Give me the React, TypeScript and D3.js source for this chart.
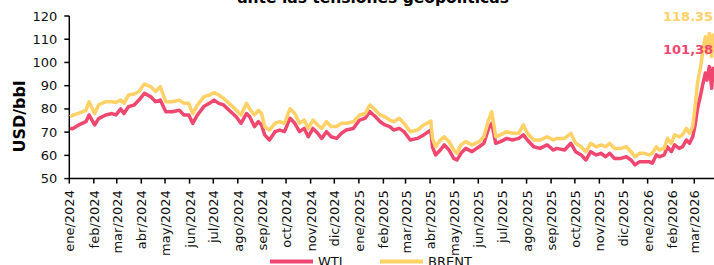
import * as d3 from "d3";

const dates = [
  "2024-01-02", "2024-01-05", "2024-01-13", "2024-01-22", "2024-01-26", "2024-02-02", "2024-02-07", "2024-02-16",
  "2024-02-24", "2024-02-29", "2024-03-06", "2024-03-10", "2024-03-16", "2024-03-23", "2024-03-29", "2024-04-05",
  "2024-04-13", "2024-04-19", "2024-04-25", "2024-05-02", "2024-05-10", "2024-05-19", "2024-05-25", "2024-05-31",
  "2024-06-05", "2024-06-11", "2024-06-19", "2024-06-26", "2024-07-02", "2024-07-08", "2024-07-14", "2024-07-21",
  "2024-07-30", "2024-08-05", "2024-08-12", "2024-08-16", "2024-08-22", "2024-08-27", "2024-08-31", "2024-09-04",
  "2024-09-10", "2024-09-17", "2024-09-23", "2024-09-29", "2024-10-06", "2024-10-12", "2024-10-18", "2024-10-24",
  "2024-10-29", "2024-11-04", "2024-11-10", "2024-11-15", "2024-11-21", "2024-11-27", "2024-12-04", "2024-12-10",
  "2024-12-16", "2024-12-25", "2025-01-02", "2025-01-09", "2025-01-15", "2025-01-22", "2025-01-28", "2025-02-03",
  "2025-02-09", "2025-02-14", "2025-02-21", "2025-02-27", "2025-03-07", "2025-03-16", "2025-03-24", "2025-04-02",
  "2025-04-04", "2025-04-08", "2025-04-14", "2025-04-19", "2025-04-25", "2025-05-01", "2025-05-05", "2025-05-10",
  "2025-05-16", "2025-05-24", "2025-06-02", "2025-06-08", "2025-06-14", "2025-06-18", "2025-06-23", "2025-06-29",
  "2025-07-07", "2025-07-14", "2025-07-22", "2025-07-28", "2025-08-02", "2025-08-10", "2025-08-18", "2025-08-27",
  "2025-09-04", "2025-09-08", "2025-09-18", "2025-09-26", "2025-10-02", "2025-10-09", "2025-10-15", "2025-10-21",
  "2025-10-28", "2025-11-03", "2025-11-09", "2025-11-14", "2025-11-20", "2025-11-28", "2025-12-05", "2025-12-11",
  "2025-12-16", "2025-12-22", "2025-12-28", "2026-01-03", "2026-01-07", "2026-01-12", "2026-01-16", "2026-01-22",
  "2026-01-26", "2026-01-31", "2026-02-04", "2026-02-10", "2026-02-14", "2026-02-19", "2026-02-23", "2026-02-27",
  "2026-03-02", "2026-03-05", "2026-03-09", "2026-03-12", "2026-03-15", "2026-03-17", "2026-03-20", "2026-03-23",
  "2026-03-25",
];

const wti = [
  71.7, 71.5, 73.1, 74.5, 77.4, 73.1, 75.8, 77.4, 78.0, 77.4, 80.0, 78.0, 81.0, 81.7, 83.8, 86.7,
  85.2, 83.1, 83.8, 78.8, 78.8, 79.4, 77.4, 77.4, 73.8, 77.4, 81.0, 82.4, 83.8, 82.4, 81.7, 79.4,
  76.6, 73.8, 78.0, 76.6, 72.4, 74.5, 73.1, 68.8, 66.6, 70.2, 70.9, 70.2, 76.0, 73.8, 70.2, 71.6,
  68.0, 71.6, 69.5, 67.3, 70.2, 68.0, 67.3, 69.5, 70.9, 71.6, 75.2, 76.0, 78.8, 76.6, 74.5, 73.1,
  72.4, 70.9, 71.6, 70.2, 66.6, 67.3, 68.8, 70.9, 63.7, 60.2, 62.3, 64.5, 62.3, 58.7, 58.0, 60.9,
  63.0, 61.6, 63.7, 65.2, 71.6, 73.8, 65.2, 65.9, 67.3, 66.6, 67.3, 68.8, 66.6, 63.7, 63.0, 64.5,
  62.3, 63.0, 62.3, 65.2, 61.6, 60.2, 58.0, 61.6, 60.2, 60.9, 59.4, 60.9, 58.7, 58.7, 59.4, 58.0,
  55.9, 57.3, 57.3, 57.3, 56.6, 60.2, 59.4, 60.2, 63.7, 61.6, 64.5, 63.0, 63.7, 66.6, 65.2, 68.0,
  73.0, 80.0, 86.0, 91.0, 95.5, 92.4, 98.2, 88.9, 98.2,
];

const brent = [
  76.6, 77.2, 78.2, 79.4, 83.1, 78.0, 81.7, 83.1, 83.1, 82.8, 83.8, 82.4, 86.0, 86.4, 87.5, 90.7,
  89.6, 87.5, 89.6, 83.1, 83.1, 83.8, 82.4, 82.4, 78.0, 81.7, 85.2, 86.0, 87.0, 86.0, 84.5, 82.4,
  79.4, 77.4, 82.4, 80.1, 77.4, 79.4, 78.0, 72.4, 70.9, 73.8, 74.5, 73.8, 80.1, 78.0, 73.8, 75.2,
  71.6, 75.2, 73.1, 71.6, 74.5, 72.4, 72.4, 73.8, 73.8, 74.5, 77.4, 78.0, 81.7, 79.4, 77.4, 76.6,
  75.2, 74.5, 76.0, 73.8, 70.2, 70.9, 73.1, 74.8, 67.3, 63.7, 66.6, 68.0, 65.9, 62.3, 60.9, 64.5,
  65.9, 64.5, 65.9, 68.0, 75.2, 78.8, 68.0, 68.8, 70.2, 69.5, 69.5, 73.1, 69.5, 66.6, 66.6, 68.0,
  66.6, 67.3, 67.3, 69.5, 65.2, 63.7, 61.6, 65.2, 63.7, 64.5, 63.7, 65.2, 63.0, 63.0, 63.7, 61.6,
  59.4, 60.9, 60.9, 60.2, 60.9, 63.7, 62.3, 63.0, 67.3, 65.2, 68.8, 68.0, 68.8, 71.6, 69.5, 72.4,
  81.0, 91.0, 98.2, 105.4, 111.1, 104.0, 112.5, 102.5, 112.5,
];

const yTicks = [50, 60, 70, 80, 90, 100, 110, 120];
const monthNames = ["ene", "feb", "mar", "abr", "may", "jun", "jul", "ago", "sep", "oct", "nov", "dic"];

const WTI_COLOR = "#EF476F";
const BRENT_COLOR = "#FFD166";
const FONT = "'DejaVu Sans', Verdana, sans-serif";

export default function App() {
  const width = 714;
  const height = 265;
  const parse = d3.timeParse("%Y-%m-%d");
  const parsed = dates.map((d) => parse(d) as Date);

  const x = d3
    .scaleTime()
    .domain([new Date(2024, 0, 1), new Date(2026, 2, 1)])
    .range([69.3, 694.3]);
  const y = d3.scaleLinear().domain([50, 120]).range([178.6, 16]);

  const months = d3.timeMonth.range(new Date(2024, 0, 1), new Date(2026, 2, 2));

  const line = d3
    .line<number>()
    .x((_, i) => x(parsed[i]))
    .y((v) => y(v));

  const x0 = x.range()[0];
  const yBase = y(50);

  return (
    <svg
      width={width}
      height={height}
      style={{ position: "absolute", left: 0, top: 0, background: "#fff", overflow: "hidden" }}
      fontFamily={FONT}
    >
      {/* title (first line falls outside the crop) */}
      <text x={373} y={2.5} textAnchor="middle" fontSize={15.5} fontWeight="bold" fill="#000">
        ante las tensiones geopolíticas
      </text>

      {/* y axis */}
      <line x1={x0} x2={x0} y1={y(120)} y2={yBase} stroke="#000" strokeWidth={1.5} />
      {yTicks.map((t) => (
        <g key={t}>
          <line x1={x0 - 5} x2={x0} y1={y(t)} y2={y(t)} stroke="#000" strokeWidth={1.5} />
          <text x={x0 - 12} y={y(t)} dy="0.35em" textAnchor="end" fontSize={13} fill="#111">
            {t}
          </text>
        </g>
      ))}
      <text
        transform={`translate(25,116.5) rotate(-90)`}
        textAnchor="middle"
        fontSize={16}
        fontWeight="bold"
        fill="#000"
      >
        USD/bbl
      </text>

      {/* x axis */}
      <line x1={x0} x2={width} y1={yBase} y2={yBase} stroke="#000" strokeWidth={1.5} />
      {months.map((m) => {
        const mx = x(m);
        return (
          <g key={m.toISOString()}>
            <line x1={mx} x2={mx} y1={yBase} y2={yBase + 5} stroke="#000" strokeWidth={1.5} />
            <text
              transform={`translate(${mx + 5},${yBase + 11.5}) rotate(-90)`}
              textAnchor="end"
              fontSize={13}
              fill="#111"
            >
              {`${monthNames[m.getMonth()]}/${m.getFullYear()}`}
            </text>
          </g>
        );
      })}

      {/* series */}
      <path d={line(wti) ?? ""} fill="none" stroke={WTI_COLOR} strokeWidth={3.5} strokeLinejoin="round" />
      <path d={line(brent) ?? ""} fill="none" stroke={BRENT_COLOR} strokeWidth={3.5} strokeLinejoin="round" />

      {/* end labels */}
      <text x={663} y={21} fontSize={13} fontWeight="bold" fill={BRENT_COLOR}>
        118.35
      </text>
      <text x={663} y={54} fontSize={13} fontWeight="bold" fill={WTI_COLOR}>
        101,38
      </text>

      {/* legend */}
      <line x1={270} x2={313} y1={261.5} y2={261.5} stroke={WTI_COLOR} strokeWidth={4} />
      <text x={318} y={266} fontSize={13} fill="#111">WTI</text>
      <line x1={380} x2={423} y1={261.5} y2={261.5} stroke={BRENT_COLOR} strokeWidth={4} />
      <text x={428} y={266} fontSize={13} fill="#111">BRENT</text>
    </svg>
  );
}
